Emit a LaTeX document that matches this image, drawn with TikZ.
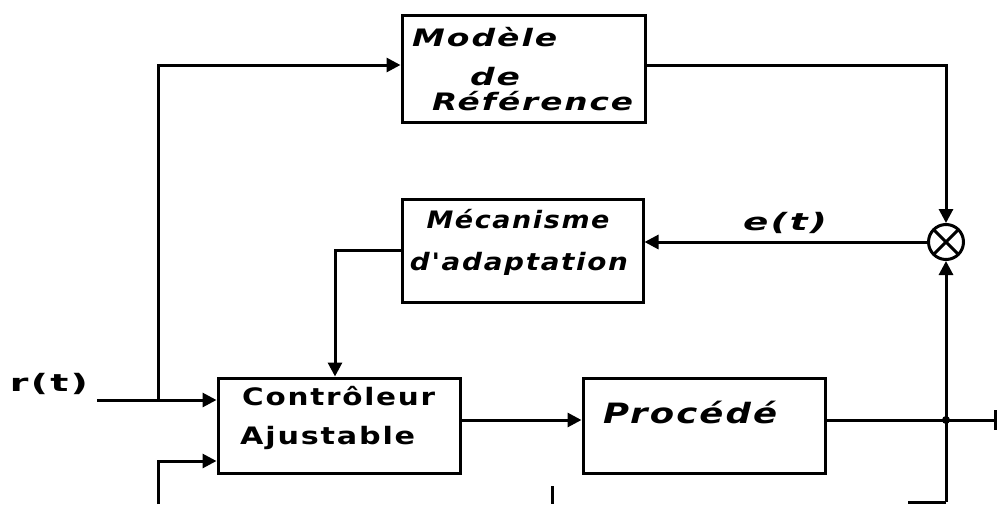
\documentclass[tikz,border=0pt]{standalone}
\usepackage{fontspec}
\usepackage{graphicx}
\usetikzlibrary{arrows.meta}
\newfontfamily\handit[LetterSpace=6]{DejaVu Sans Bold Oblique}
\newfontfamily\handup[LetterSpace=6]{DejaVu Sans Bold}
\newcommand{\hwi}[2]{\resizebox{#1}{\height}{\handit #2}}
\newcommand{\hwu}[2]{\resizebox{#1}{\height}{\handup #2}}
\tikzset{
  wire/.style={line width=3pt},
  arr/.style={wire, -{Triangle[length=14pt,width=14pt]}},
  lbl/.style={inner sep=0pt, font=\fontsize{24}{26}\selectfont},
}
\begin{document}
\begin{tikzpicture}[x=1pt,y=-1pt]
\useasboundingbox[fill=white] (0,0) rectangle (997,504);
% blocks
\node[draw, line width=3pt, minimum width=243pt, minimum height=107pt, inner sep=0pt] (ref) at (523.5,68.5) {};
\node[draw, line width=3pt, minimum width=241pt, minimum height=103pt, inner sep=0pt] (mec) at (522.5,250.5) {};
\node[draw, line width=3pt, minimum width=242pt, minimum height=95pt, inner sep=0pt] (ctl) at (339,425.5) {};
\node[draw, line width=3pt, minimum width=242pt, minimum height=95pt, inner sep=0pt] (proc) at (704,425.5) {};
\node[draw, line width=3pt, circle, minimum size=35pt, inner sep=0pt,
  path picture={\draw[line width=3pt] (path picture bounding box.north west) -- (path picture bounding box.south east)
                (path picture bounding box.north east) -- (path picture bounding box.south west);}] (sum) at (946,242) {};
% texts
\node[lbl, anchor=west] (t1) at (412,37) {\hwi{145pt}{Modèle}};
\node[lbl] (t2) at (495,77) {\hwi{50pt}{de}};
\node[lbl, anchor=west] (t3) at (432,101) {\hwi{201pt}{Référence}};
\node[lbl] (t4) at (518,219) {\hwi{183pt}{Mécanisme}};
\node[lbl] (t5) at (519,264) {\hwi{218pt}{d'adaptation}};
\node[lbl, anchor=west] (t6) at (242,396) {\hwu{193pt}{Contrôleur}};
\node[lbl, anchor=west] (t7) at (240,438) {\hwu{175pt}{Ajustable}};
\node[lbl, anchor=west, font=\fontsize{28}{30}\selectfont] (t8) at (603,412) {\hwi{174pt}{Procédé}};
\node[lbl] (t9) at (785,223) {\hwi{84pt}{e(t)}};
\node[lbl] (t10) at (49,384) {\hwu{78pt}{r(t)}};
% coordinates
\coordinate (rin) at (97,400);
\coordinate (j1) at (158,400);
\coordinate (out) at (995,420);
\coordinate (j2) at (946,420);
\coordinate (bot) at (946,502);
\coordinate (botl) at (908,502);
\coordinate (lb) at (158,504);
% connectors
\draw[arr] (rin) -- (ctl.west |- rin);
\draw[arr] (j1) |- (ref.west |- 0,65);
\draw[arr] (ref.east |- 0,65) -| (sum.north);
\draw[arr] (sum.west) -- (mec.east |- sum.west);
\draw[arr] (mec.west |- 0,250) -| (ctl.north -| 335,0);
\draw[arr] (ctl.east |- 0,420) -- (proc.west |- 0,420);
\draw[wire] (proc.east |- 0,420) -- (out);
\draw[wire] (out) ++(0,-10) -- ++(0,20);
\draw[arr] (bot) -- (sum.south);
\draw[wire] (bot) -- (botl);
\draw[arr] (lb) |- (ctl.west |- 0,461);
\fill (j2) circle (4pt);
\draw[wire] (552,486) -- (552,504);
\end{tikzpicture}
\end{document}
